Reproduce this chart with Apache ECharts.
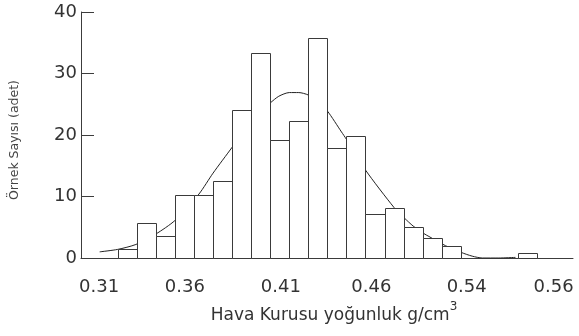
<!DOCTYPE html>
<html>
<head>
<meta charset="utf-8">
<script src="https://cdn.jsdelivr.net/npm/echarts@6/dist/echarts.min.js"></script>
<style>
  html, body { margin: 0; padding: 0; background: #fff; }
  #chart { width: 579px; height: 336px; }
</style>
</head>
<body>
<div id="chart"></div>
<script>
// histogram bins (one unit per bin), count in each bin
var binCounts = [1.4, 5.7, 3.6, 10.3, 10.3, 12.6, 24.0, 33.3, 19.2, 22.3, 35.8, 17.9,
                 19.8, 7.2, 8.1, 5.1, 3.3, 2.0, 0, 0, 0, 0.86];

// fitted density curve, x in bin units
var curveX = [-0.95, 0, 0.95, 2.0, 3.0, 4.26, 5.0, 6.0, 7.0, 8.0, 8.45, 9.0, 9.5, 10.0,
              10.5, 11.0, 11.74, 12.0, 13.0, 14.5, 15.04, 15.5, 16.05, 16.33, 17.2,
              18.03, 18.6, 19.13, 20.0, 20.87];
var curveY = [1.0, 1.4, 2.2, 3.9, 6.1, 10.4, 13.8, 18.0, 22.3, 25.2, 26.3, 26.9, 26.9, 26.5,
              25.4, 23.9, 20.5, 19.3, 14.3, 8.2, 6.5, 5.2, 4.0, 3.5, 2.0,
              0.9, 0.3, 0, 0, 0.1];

// x tick labels and where they sit along the bin scale
var xTickLabels = ['0.31', '0.36', '0.41', '0.46', '0.54', '0.56'];
var xTickPos = [-0.98, 3.52, 8.56, 13.31, 18.31, 22.87];

var yTicks = [0, 10, 20, 30, 40];

var barData = [];
binCounts.forEach(function (c, i) {
    if (c > 0) barData.push([i, i + 1, c]);
});
var curveData = curveX.map(function (x, i) { return [x, curveY[i]]; });

var chart = echarts.init(document.getElementById('chart'));
var axisColor = '#3c3c3c';
var textColor = '#333';

chart.setOption({
    animation: false,
    grid: { left: 78, right: 6, top: 12, bottom: 78 },
    xAxis: {
        type: 'value',
        min: -1.93,
        max: 23.89,
        splitLine: { show: false },
        axisTick: { show: false },
        axisLine: { onZero: false, lineStyle: { color: axisColor, width: 1 } },
        axisLabel: {
            customValues: xTickPos,
            margin: 20,
            fontFamily: 'DejaVu Sans',
            fontSize: 18,
            color: textColor,
            formatter: function (v) {
                var k = xTickPos.indexOf(v);
                return k >= 0 ? xTickLabels[k] : '';
            }
        },
        name: '{b|Hava Kurusu yoğunluk g/cm}{sup|3}',
        nameLocation: 'middle',
        nameGap: 46,
        nameTextStyle: {
            padding: [0, 0, 0, 14],
            rich: {
                b: { fontFamily: 'DejaVu Sans', fontSize: 17, color: textColor, verticalAlign: 'bottom', lineHeight: 20 },
                sup: { fontFamily: 'DejaVu Sans', fontSize: 12, color: textColor, verticalAlign: 'bottom', lineHeight: 12, padding: [0, 0, 11, 0] }
            }
        }
    },
    yAxis: {
        type: 'value',
        min: yTicks[0],
        max: yTicks[yTicks.length - 1],
        interval: 10,
        splitLine: { show: false },
        axisLine: { show: true, onZero: false, lineStyle: { color: axisColor, width: 1 } },
        axisTick: { show: true, inside: true, length: 13, lineStyle: { color: axisColor } },
        axisLabel: {
            margin: 4,
            fontFamily: 'DejaVu Sans',
            fontSize: 18,
            color: textColor
        },
        name: 'Örnek Sayısı (adet)',
        nameLocation: 'middle',
        nameRotate: 90,
        nameGap: 60,
        nameTextStyle: { fontFamily: 'DejaVu Sans', fontSize: 12.5, color: '#444', padding: [0, 10, 0, 0] }
    },
    series: [
        {
            type: 'line',
            data: curveData,
            smooth: 0.25,
            showSymbol: false,
            z: 1,
            lineStyle: { color: '#222', width: 1 }
        },
        {
            type: 'custom',
            z: 3,
            data: barData,
            renderItem: function (params, api) {
                var topLeft = api.coord([api.value(0), api.value(2)]);
                var bottomRight = api.coord([api.value(1), 0]);
                return {
                    type: 'rect',
                    shape: {
                        x: Math.round(topLeft[0]) + 0.5,
                        y: Math.round(topLeft[1]) + 0.5,
                        width: Math.round(bottomRight[0]) - Math.round(topLeft[0]),
                        height: Math.round(bottomRight[1]) - Math.round(topLeft[1])
                    },
                    style: { fill: '#fff', stroke: '#3a3a3a', lineWidth: 1 }
                };
            }
        }
    ]
});
</script>
</body>
</html>
